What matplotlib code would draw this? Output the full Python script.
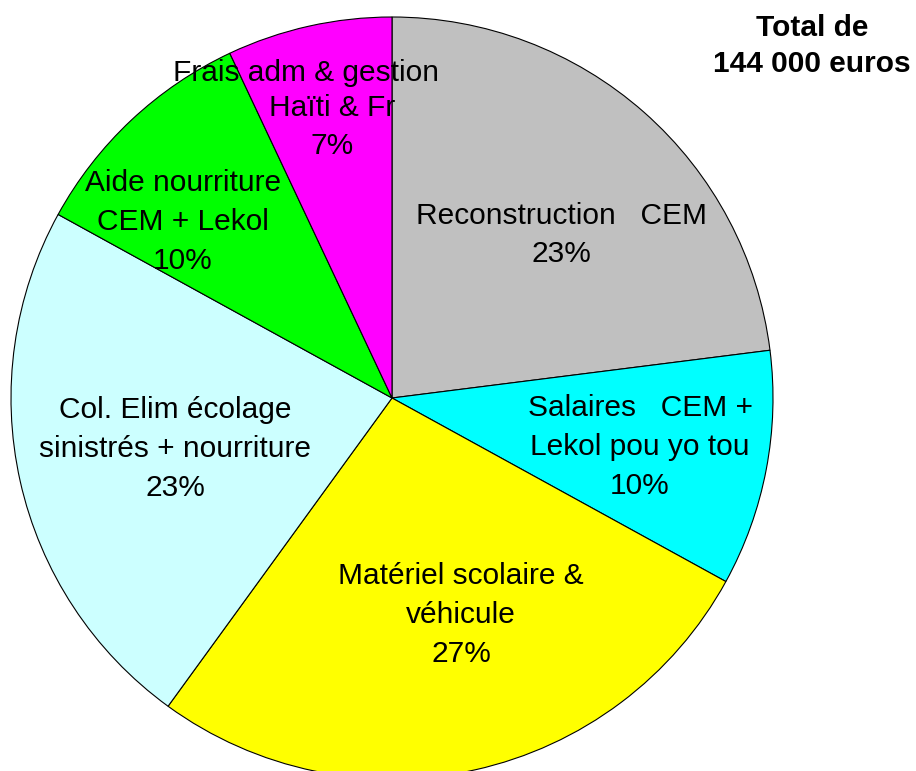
import matplotlib
matplotlib.use("Agg")
from matplotlib import pyplot as plt

# %%
labels = ["Reconstruction   CEM", "Salaires   CEM +\nLekol pou yo tou",
          "Matériel scolaire &\nvéhicule", "Col. Elim écolage\nsinistrés + nourriture",
          "Aide nourriture\nCEM + Lekol", "Haïti & Fr"]
percents = [23, 10, 27, 23, 10, 7]
colors = ["#C0C0C0", "#00FFFF", "#FFFF00", "#CCFFFF", "#00FF00", "#FF00FF"]
# label block centres (pixels, y from bottom)
label_pos = [(561, 536), (640, 324), (461, 156), (175, 322), (183, 549), (332, 644)]

# %%
plt.rcParams["font.family"] = ["Liberation Sans", "DejaVu Sans"]
fig = plt.figure(figsize=(9.16, 7.71), dpi=100)
ax = fig.add_axes([0, 0, 1, 1])

ax.pie(percents, colors=colors, startangle=90, counterclock=False,
       center=(392, 373), radius=381, frame=True,
       wedgeprops={"edgecolor": "black", "linewidth": 0.8})
ax.set_xlim(0, 916)
ax.set_ylim(0, 771)
ax.set_aspect("equal")
ax.axis("off")

for lab, p, (x, y) in zip(labels, percents, label_pos):
    ax.text(x, y, f"{lab}\n{p}%", ha="center", va="center", fontsize=21.5,
            linespacing=1.5)
# first line of the Frais label sits off to the left in the original
ax.text(306, 698, "Frais adm & gestion", ha="center", va="center", fontsize=21.5)

ax.text(812, 725, "Total de\n144 000 euros", ha="center", va="center",
        fontsize=21.5, fontweight="bold", linespacing=1.33)

plt.savefig("out.png", dpi=100)
